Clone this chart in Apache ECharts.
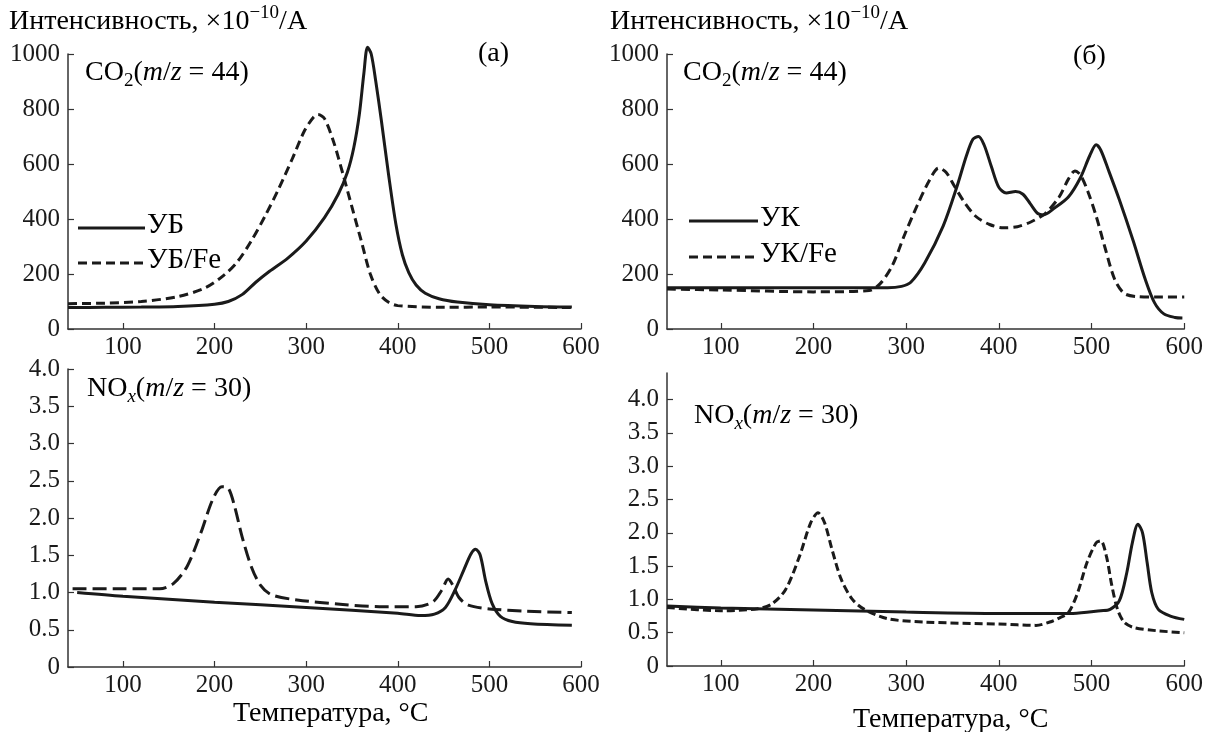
<!DOCTYPE html>
<html><head><meta charset="utf-8">
<script src="https://cdn.jsdelivr.net/npm/echarts@6/dist/echarts.min.js"></script>
<style>html,body{margin:0;padding:0;background:#fff}#c{width:1206px;height:732px}</style>
</head><body><div id="c"></div>
<script>
// ---- data ----
const xTicks = [100, 200, 300, 400, 500, 600];
const co2Ticks = [0, 200, 400, 600, 800, 1000];
const noxTicks = [0, 0.5, 1.0, 1.5, 2.0, 2.5, 3.0, 3.5, 4.0];

const co2_UB = [[40,78],[80,79],[120,80],[160,82],[200,90],[215,100],[230,125],[245,170],[260,210],[280,258],[300,320],[320,405],[335,490],[345,570],[352,660],[358,780],[363,930],[367,1025],[371,1000],[376,900],[382,760],[390,560],[398,380],[405,270],[412,205],[420,160],[430,130],[445,110],[465,98],[500,88],[550,82],[590,80]];
const co2_UBFe = [[40,92],[80,94],[120,100],[160,118],[190,150],[210,195],[225,245],[240,320],[255,410],[270,510],[285,620],[298,720],[308,770],[313,780],[320,765],[330,680],[340,565],[350,443],[360,322],[370,200],[380,128],[390,97],[400,85],[450,79],[500,80],[590,78]];
const co2_UK = [[42,150],[100,150],[200,150],[280,150],[295,155],[305,170],[320,240],[340,375],[355,520],[365,630],[372,690],[378,700],[384,670],[392,590],[400,515],[408,495],[418,500],[426,490],[434,455],[442,420],[448,415],[460,440],[475,480],[488,550],[498,630],[505,670],[510,650],[518,580],[530,470],[545,320],[558,180],[568,95],[578,55],[590,42],[598,40]];
const co2_UKFe = [[42,145],[100,142],[200,135],[260,140],[272,165],[285,230],[298,340],[312,450],[325,540],[335,585],[343,570],[352,520],[362,465],[375,410],[390,380],[405,368],[420,372],[435,390],[450,420],[465,480],[475,545],[482,575],[488,560],[496,500],[505,410],[515,290],[525,180],[535,130],[548,118],[570,116],[600,116]];
const nox_UB = [[50,1.0],[100,0.95],[200,0.87],[300,0.80],[400,0.72],[425,0.69],[440,0.71],[452,0.80],[462,1.02],[472,1.30],[480,1.52],[485,1.58],[490,1.50],[496,1.15],[503,0.85],[512,0.68],[525,0.61],[545,0.58],[590,0.56]];
const nox_UBFe = [[45,1.05],[100,1.05],[140,1.05],[155,1.12],[170,1.35],[185,1.80],[198,2.25],[208,2.42],[215,2.40],[222,2.15],[230,1.75],[240,1.35],[250,1.10],[262,0.97],[290,0.90],[340,0.84],[380,0.81],[420,0.81],[438,0.87],[448,1.03],[455,1.18],[460,1.10],[467,0.93],[477,0.83],[500,0.78],[540,0.75],[590,0.73]];
const nox_UK = [[42,0.90],[100,0.87],[200,0.84],[300,0.81],[400,0.79],[480,0.79],[510,0.83],[520,0.85],[530,0.98],[538,1.40],[544,1.85],[550,2.13],[555,2.00],[560,1.55],[565,1.10],[572,0.85],[585,0.75],[600,0.70]];
const nox_UKFe = [[42,0.88],[100,0.83],[140,0.86],[155,0.93],[170,1.15],[185,1.65],[197,2.15],[205,2.30],[212,2.15],[220,1.75],[230,1.30],[242,1.00],[255,0.85],[280,0.71],[320,0.66],[400,0.63],[440,0.61],[455,0.66],[465,0.72],[475,0.80],[485,1.10],[495,1.55],[505,1.85],[510,1.88],[516,1.65],[522,1.20],[528,0.85],[535,0.66],[545,0.58],[570,0.53],[600,0.50]];

// ---- chart ----
const FONT = '"Liberation Serif", "Times New Roman", serif';
const INK = '#1a1a1a';
const AX = '#333';
const TICKFS = 25;

function xAxis(gi, min) {
  return {
    type: 'value', gridIndex: gi, min: min, max: 600,
    axisLine: {show: true, onZero: false, lineStyle: {color: AX, width: 1.5}},
    axisTick: {show: true, inside: true, length: 6, customValues: xTicks, lineStyle: {color: AX, width: 1.2}},
    axisLabel: {customValues: xTicks, color: INK, fontFamily: FONT, fontSize: TICKFS, margin: 6},
    splitLine: {show: false}
  };
}
function yAxis(gi, max, ticks, fmt) {
  return {
    type: 'value', gridIndex: gi, min: 0, max: max,
    axisLine: {show: true, lineStyle: {color: AX, width: 1.5}},
    axisTick: {show: true, inside: true, length: 6, customValues: ticks, lineStyle: {color: AX, width: 1.2}},
    axisLabel: {customValues: ticks, color: INK, fontFamily: FONT, fontSize: TICKFS, margin: 8, formatter: fmt},
    splitLine: {show: false}
  };
}
const noxFmt = v => v === 0 ? '0' : v.toFixed(1);
const co2Fmt = v => String(v);

function line(name, data, xi, dashed) {
  return {
    type: 'line', name: name, data: data, xAxisIndex: xi, yAxisIndex: xi,
    showSymbol: false, smooth: 0.3, clip: false,
    lineStyle: {color: INK, width: 3, type: dashed ? dashed : 'solid'},
    silent: true, animation: false
  };
}

const rich = {
  n: {fontFamily: FONT, fontSize: 28, color: INK},
  i: {fontFamily: FONT, fontSize: 28, color: INK, fontStyle: 'italic'},
  sub: {fontFamily: FONT, fontSize: 19, color: INK, padding: [16, 0, 0, 0]},
  subi: {fontFamily: FONT, fontSize: 19, color: INK, fontStyle: 'italic', padding: [16, 0, 0, 0]},
  sup: {fontFamily: FONT, fontSize: 19, color: INK, padding: [0, 0, 16, 0]},
  lg: {fontFamily: FONT, fontSize: 29, color: INK}
};
function txt(x, y, text) {
  return {type: 'text', left: x, top: y, silent: true, style: {text: text, rich: rich}};
}
function legLine(x1, x2, y, dash) {
  return {type: 'line', silent: true, shape: {x1: x1, y1: y, x2: x2, y2: y},
    style: {stroke: INK, lineWidth: 3, lineDash: dash || null}};
}

const option = {
  animation: false,
  grid: [
    {left: 68, right: 625, top: 54, height: 275},
    {left: 667, right: 20, top: 54, height: 275},
    {left: 68, right: 625, top: 369, height: 298},
    {left: 667, right: 20, top: 373, height: 293}
  ],
  xAxis: [xAxis(0, 40), xAxis(1, 42), xAxis(2, 40), xAxis(3, 42)],
  yAxis: [yAxis(0, 1000, co2Ticks, co2Fmt), yAxis(1, 1000, co2Ticks, co2Fmt), yAxis(2, 4, noxTicks, noxFmt), yAxis(3, 4.4, noxTicks, noxFmt)],
  series: [
    line('УБ', co2_UB, 0), line('УБ/Fe', co2_UBFe, 0, [9, 5]),
    line('УК', co2_UK, 1), line('УК/Fe', co2_UKFe, 1, [9, 5]),
    line('УБ', nox_UB, 2), line('УБ/Fe', nox_UBFe, 2, [14, 6]),
    line('УК', nox_UK, 3), line('УК/Fe', nox_UKFe, 3, [8, 4])
  ],
  graphic: [
    txt(9, 4, '{n|Интенсивность, ×10}{sup|−10}{n|/A}'),
    txt(610, 4, '{n|Интенсивность, ×10}{sup|−10}{n|/A}'),
    txt(478, 40, '{n|(a)}'),
    txt(1073, 43, '{n|(б)}'),
    txt(85, 59, '{n|CO}{sub|2}{n|(}{i|m}{n|/}{i|z}{n| = 44)}'),
    txt(683, 59, '{n|CO}{sub|2}{n|(}{i|m}{n|/}{i|z}{n| = 44)}'),
    txt(87, 375, '{n|NO}{subi|x}{n|(}{i|m}{n|/}{i|z}{n| = 30)}'),
    txt(694, 402, '{n|NO}{subi|x}{n|(}{i|m}{n|/}{i|z}{n| = 30)}'),
    legLine(78, 145, 228), txt(147, 211, '{lg|УБ}'),
    legLine(78, 145, 263, [9, 5]), txt(147, 246, '{lg|УБ/Fe}'),
    legLine(689, 758, 221), txt(760, 204, '{lg|УК}'),
    legLine(689, 758, 257, [9, 5]), txt(760, 240, '{lg|УК/Fe}'),
    txt(233, 700, '{n|Температура, °С}'),
    txt(853, 706, '{n|Температура, °С}')
  ]
};
const chart = echarts.init(document.getElementById('c'), null, {renderer: 'canvas'});
chart.setOption(option);
</script></body></html>
